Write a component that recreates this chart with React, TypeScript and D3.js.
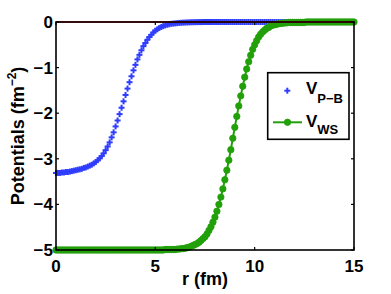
import React from "react";
import * as d3 from "d3";

const width = 391;
const height = 294;

// radius grid, 0..15 fm in 0.1 steps
const radius = d3.range(151).map((i) => i / 10);

// V_P-B at each radius
const vPB = [
  -3.31, -3.31, -3.31, -3.3, -3.3, -3.29, -3.29, -3.28, -3.27, -3.26,
  -3.25, -3.24, -3.23, -3.22, -3.2, -3.19, -3.17, -3.15, -3.13, -3.1,
  -3.07, -3.03, -2.99, -2.94, -2.88, -2.81, -2.73, -2.64, -2.53, -2.42,
  -2.29, -2.16, -2.02, -1.88, -1.74, -1.6, -1.46, -1.32, -1.19, -1.06,
  -0.94, -0.82, -0.72, -0.62, -0.53, -0.46, -0.39, -0.33, -0.28, -0.23,
  -0.19, -0.16, -0.13, -0.11, -0.09, -0.075, -0.06, -0.05, -0.04, -0.035,
  -0.03, -0.025, -0.02, -0.017, -0.014, -0.012, -0.01, -0.008, -0.006, -0.005,
  -0.004, -0.003, -0.002, -0.002, -0.001, -0.001, 0, 0, 0, 0,
  0, 0, 0, 0, 0, 0, 0, 0, 0, 0,
  0, 0, 0, 0, 0, 0, 0, 0, 0, 0,
  0, 0, 0, 0, 0, 0, 0, 0, 0, 0,
  0, 0, 0, 0, 0, 0, 0, 0, 0, 0,
  0, 0, 0, 0, 0, 0, 0, 0, 0, 0,
  0, 0, 0, 0, 0, 0, 0, 0, 0, 0,
  0, 0, 0, 0, 0, 0, 0, 0, 0, 0,
  0,
];

// V_WS
const vWS = [
  -5, -5, -5, -5, -5, -5, -5, -5, -5, -5,
  -5, -5, -5, -5, -5, -5, -5, -5, -5, -5,
  -5, -5, -5, -5, -5, -5, -5, -5, -5, -5,
  -5, -5, -5, -5, -5, -5, -5, -5, -5, -5,
  -5, -5, -5, -5, -5, -5, -5, -5, -5, -5,
  -5, -5, -5, -5, -5, -4.99, -4.99, -4.99, -4.99, -4.99,
  -4.99, -4.98, -4.98, -4.97, -4.97, -4.96, -4.95, -4.94, -4.92, -4.9,
  -4.88, -4.86, -4.83, -4.79, -4.75, -4.71, -4.65, -4.57, -4.49, -4.39,
  -4.28, -4.15, -4.0, -3.84, -3.66, -3.46, -3.25, -3.03, -2.8, -2.55,
  -2.31, -2.07, -1.84, -1.62, -1.41, -1.21, -1.03, -0.87, -0.73, -0.6,
  -0.5, -0.41, -0.33, -0.27, -0.22, -0.18, -0.14, -0.12, -0.09, -0.07,
  -0.06, -0.05, -0.04, -0.03, -0.03, -0.02, -0.02, -0.01, -0.01, -0.01,
  -0.01, -0.01, -0.01, -0.01, -0.01, -0.01, 0, 0, 0, 0,
  0, 0, 0, 0, 0, 0, 0, 0, 0, 0,
  0, 0, 0, 0, 0, 0, 0, 0, 0, 0,
  0,
];

const xTicks = [0, 5, 10, 15];
const yTicks = [0, -1, -2, -3, -4, -5];

const blue = "#2e3cff";
const green = "#22a00a";
const font = "'Liberation Sans', Arial, sans-serif";

export default function App() {
  const x = d3.scaleLinear().domain([0, 15]).range([56, 354]);
  const y = d3.scaleLinear().domain([-5, 0]).range([250, 22]);

  const wsLine = d3
    .line<number>()
    .x((d, i) => x(radius[i]))
    .y((d) => y(d))(vWS);

  const zeroLine = d3
    .line<number>()
    .x((d) => x(d))
    .y(() => y(0))([0, 15]);

  const [x0, x1] = x.range();
  const [y0, y1] = y.range();
  const tk = 3;
  const ph = 3; // half size of plus marker

  return (
    <svg width={width} height={height} style={{ position: "absolute", left: 0, top: 0 }} fontFamily={font} fontWeight="bold">
      <rect width={width} height={height} fill="#fff" />

      {/* V_P-B plus markers */}
      <g stroke={blue} strokeWidth={2}>
        {vPB.map((d, i) => {
          const cx = x(radius[i]);
          const cy = y(d);
          return (
            <g key={i}>
              <line x1={cx - ph} x2={cx + ph} y1={cy} y2={cy} />
              <line x1={cx} x2={cx} y1={cy - ph} y2={cy + ph} />
            </g>
          );
        })}
      </g>

      {/* V_WS line with circles */}
      <path d={wsLine ?? ""} fill="none" stroke={green} strokeWidth={2} />
      <g fill={green} stroke={green} strokeWidth={0.8}>
        {vWS.map((d, i) => (
          <circle key={i} cx={x(radius[i])} cy={y(d)} r={3.2} />
        ))}
      </g>

      <path d={zeroLine ?? ""} stroke="#ff0000" strokeWidth={1.5} fill="none" />

      {/* axes box */}
      <rect x={x0} y={y1} width={x1 - x0} height={y0 - y1} fill="none" stroke="#000" strokeWidth={1.6} />
      <g stroke="#000" strokeWidth={1.2}>
        {xTicks.map((t) => (
          <g key={t}>
            <line x1={x(t)} x2={x(t)} y1={y0} y2={y0 - tk} />
            <line x1={x(t)} x2={x(t)} y1={y1} y2={y1 + tk} />
          </g>
        ))}
        {yTicks.map((t) => (
          <g key={t}>
            <line x1={x0} x2={x0 + tk} y1={y(t)} y2={y(t)} />
            <line x1={x1} x2={x1 - tk} y1={y(t)} y2={y(t)} />
          </g>
        ))}
      </g>

      <g fontSize={17} fill="#000">
        {xTicks.map((t) => (
          <text key={t} x={x(t)} y={271.5} textAnchor="middle">
            {t}
          </text>
        ))}
        {yTicks.map((t) => (
          <text key={t} x={53} y={y(t) + 6} textAnchor="end">
            {t === 0 ? "0" : "\u2212" + Math.abs(t)}
          </text>
        ))}
      </g>

      <text x={205} y={285} fontSize={18} textAnchor="middle">
        r (fm)
      </text>
      <text transform={`translate(24,136) rotate(-90)`} fontSize={18} textAnchor="middle">
        Potentials (fm
        <tspan fontSize={12} dy={-8}>
          {"\u22122"}
        </tspan>
        <tspan dy={8}>)</tspan>
      </text>

      {/* legend */}
      <rect x={267.7} y={72.7} width={81.3} height={66.6} fill="#fff" stroke="#000" strokeWidth={1.6} />
      <g stroke={blue} strokeWidth={2}>
        <line x1={284.3} x2={290.3} y1={90.7} y2={90.7} />
        <line x1={287.3} x2={287.3} y1={87.7} y2={93.7} />
      </g>
      <line x1={273} x2={302} y1={122.3} y2={122.3} stroke={green} strokeWidth={2} />
      <circle cx={287.5} cy={122.3} r={3.2} fill={green} stroke={green} strokeWidth={0.8} />
      <text x={306} y={94.3} fontSize={17}>
        V<tspan fontSize={13} dy={9}>{"P\u2212B"}</tspan>
      </text>
      <text x={306} y={126.5} fontSize={17}>
        V<tspan fontSize={13} dy={7.5}>WS</tspan>
      </text>
    </svg>
  );
}
